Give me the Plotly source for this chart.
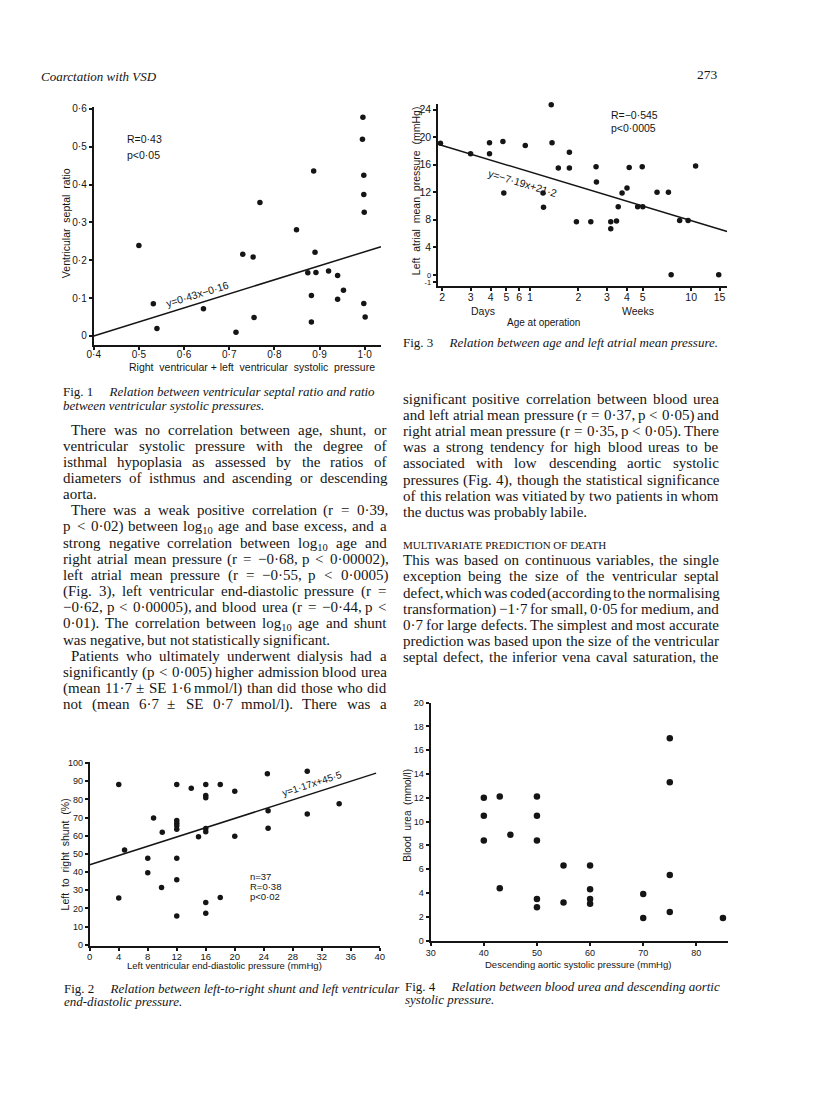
import plotly.graph_objects as go

# ---------------- data ----------------
# Fig. 1  ventricular septal ratio vs RV/LV systolic pressure ratio
fig1_pressure_ratio = [0.500, 0.532, 0.540, 0.643, 0.715, 0.730, 0.753, 0.755, 0.768, 0.849,
                       0.874, 0.882, 0.882, 0.887, 0.890, 0.892, 0.920, 0.940, 0.940, 0.953,
                       0.996, 0.995, 0.998, 0.998, 0.999, 0.998, 1.001]
fig1_septal_ratio = [0.239, 0.085, 0.020, 0.072, 0.010, 0.216, 0.209, 0.049, 0.353, 0.281,
                     0.167, 0.107, 0.037, 0.436, 0.221, 0.168, 0.172, 0.160, 0.097, 0.121,
                     0.578, 0.520, 0.425, 0.374, 0.327, 0.086, 0.050]
fig1_fit_x = [0.40, 1.036]
fig1_fit_y = [0.0, 0.236]
fig1_xticks = [0.4, 0.5, 0.6, 0.7, 0.8, 0.9, 1.0]
fig1_xticktext = ["0·4", "0·5", "0·6", "0·7", "0·8", "0·9", "1·0"]
fig1_yticks = [0, 0.1, 0.2, 0.3, 0.4, 0.5, 0.6]
fig1_yticktext = ["0", "0·1", "0·2", "0·3", "0·4", "0·5", "0·6"]

# Fig. 3  left atrial mean pressure vs age at operation (days, log scale)
fig3_age_days = [1.95, 3.0, 3.93, 3.93, 4.76, 4.82, 6.55, 9.49, 9.6, 8.44, 8.5, 10.5,
                 12.3, 12.3, 13.6, 16.7, 18.0, 18.1, 22.2, 22.2, 24.1, 24.7, 26.1, 28.0,
                 28.9, 32.6, 35.1, 34.8, 43.0, 50.6, 52.6, 59.4, 67.0, 74.6, 103.8]
fig3_la_pressure = [19.1, 17.6, 19.2, 17.6, 19.35, 11.9, 18.8, 24.7, 19.2, 11.9, 9.8, 15.5,
                    17.8, 15.5, 7.7, 7.7, 15.7, 13.5, 7.7, 6.7, 7.8, 9.9, 11.9, 12.6,
                    15.6, 9.9, 9.9, 15.7, 12.0, 12.0, 0.0, 7.9, 7.9, 15.8, 0.0]
fig3_fit_days = [1.93, 117]
fig3_fit_y = [18.9, 6.3]
fig3_xticks = [2, 3, 4, 5, 6, 7, 14, 21, 28, 35, 70, 105]
fig3_xticktext = ["2", "3", "4", "5", "6", "1", "2", "3", "4", "5", "10", "15"]
fig3_yticks = [-1, 0, 4, 8, 12, 16, 20, 24]
fig3_yticktext = ["-1", "0", "4", "8", "12", "16", "20", "24"]

# Fig. 2  left-to-right shunt vs LV end-diastolic pressure
fig2_lvedp = [4, 4, 4.8, 8, 8, 8.8, 10, 9.9, 12, 12, 12, 12, 12, 12, 12, 12, 14, 15,
              16, 16, 16, 16, 16, 16, 16, 18, 18, 20, 20, 24.5, 24.6, 24.6, 30, 30, 34.4]
fig2_shunt = [88.2, 25.8, 52.2, 47.6, 39.6, 69.8, 62.0, 31.5, 88.2, 68.4, 66.9, 65.5, 63.6,
              47.6, 35.8, 15.8, 86.2, 59.5, 88.2, 82.2, 80.9, 64.0, 62.2, 23.3, 17.3, 88.2,
              26.0, 84.5, 59.8, 94.2, 73.8, 64.2, 95.5, 72.0, 77.6]
fig2_fit_x = [0, 39.5]
fig2_fit_y = [44.0, 94.5]
fig2_xticks = [0, 4, 8, 12, 16, 20, 24, 28, 32, 36, 40]
fig2_yticks = [0, 10, 20, 30, 40, 50, 60, 70, 80, 90, 100]

# Fig. 4  blood urea vs descending aortic systolic pressure
fig4_pressure = [40, 40, 40, 43, 43, 45, 50, 50, 50, 50, 50, 55, 55, 60, 60, 60, 60,
                 70, 70, 75, 75, 75, 85, 75]
fig4_urea = [12.0, 10.5, 8.4, 12.1, 4.4, 8.9, 12.1, 10.5, 8.4, 3.5, 2.8, 6.3, 3.2, 6.3,
             4.3, 3.5, 3.1, 3.9, 1.9, 13.3, 5.5, 2.4, 1.9, 17.0]
fig4_xticks = [30, 40, 50, 60, 70, 80]
fig4_yticks = [0, 2, 4, 6, 8, 10, 12, 14, 16, 18, 20]

# ---------------- page text ----------------
header_left = "Coarctation with VSD"
header_right = "273"

left_paragraphs = [
    ["There was no correlation between age, shunt, or",
     "ventricular systolic pressure with the degree of",
     "isthmal hypoplasia as assessed by the ratios of",
     "diameters of isthmus and ascending or descending",
     "aorta."],
    ["There was a weak positive correlation (r = 0·39,",
     "p < 0·02) between log10 age and base excess, and a",
     "strong negative correlation between log10 age and",
     "right atrial mean pressure (r = −0·68, p < 0·00002),",
     "left atrial mean pressure (r = −0·55, p < 0·0005)",
     "(Fig. 3), left ventricular end-diastolic pressure (r =",
     "−0·62, p < 0·00005), and blood urea (r = −0·44, p <",
     "0·01). The correlation between log10 age and shunt",
     "was negative, but not statistically significant."],
    ["Patients who ultimately underwent dialysis had a",
     "significantly (p < 0·005) higher admission blood urea",
     "(mean 11·7 ± SE 1·6 mmol/l) than did those who did",
     "not (mean 6·7 ± SE 0·7 mmol/l). There was a"],
]
right_paragraph1 = [
    "significant positive correlation between blood urea",
    "and left atrial mean pressure (r = 0·37, p < 0·05) and",
    "right atrial mean pressure (r = 0·35, p < 0·05). There",
    "was a strong tendency for high blood ureas to be",
    "associated with low descending aortic systolic",
    "pressures (Fig. 4), though the statistical significance",
    "of this relation was vitiated by two patients in whom",
    "the ductus was probably labile."]
right_heading = "MULTIVARIATE PREDICTION OF DEATH"
right_paragraph2 = [
    "This was based on continuous variables, the single",
    "exception being the size of the ventricular septal",
    "defect, which was coded (according to the normalising",
    "transformation) −1·7 for small, 0·05 for medium, and",
    "0·7 for large defects. The simplest and most accurate",
    "prediction was based upon the size of the ventricular",
    "septal defect, the inferior vena caval saturation, the"]

cap1 = ["Fig. 1", "Relation between ventricular septal ratio and ratio",
        "between ventricular systolic pressures."]
cap3 = ["Fig. 3", "Relation between age and left atrial mean pressure."]
cap2 = ["Fig. 2", "Relation between left-to-right shunt and left ventricular",
        "end-diastolic pressure."]
cap4 = ["Fig. 4", "Relation between blood urea and descending aortic",
        "systolic pressure."]

# ---------------- layout helpers ----------------
PAGE_W, PAGE_H = 816, 1111
INK = "#151515"
SANS = "Liberation Sans"
SERIF = "Liberation Serif"


def px(x):
    return x / PAGE_W


def py(y):
    return 1 - y / PAGE_H


TIMES_W = {' ': 250, '!': 333, '(': 333, ')': 333, '+': 564, ',': 250, '-': 333, '.': 250,
           '/': 278, ':': 278, ';': 278, '<': 564, '=': 564, '>': 564, '·': 250, '±': 564,
           '−': 564,
           'A': 722, 'B': 667, 'C': 667, 'D': 722, 'E': 611, 'F': 556, 'G': 722, 'H': 722,
           'I': 333, 'J': 389, 'K': 722, 'L': 611, 'M': 889, 'N': 722, 'O': 722, 'P': 556,
           'Q': 722, 'R': 667, 'S': 556, 'T': 611, 'U': 722, 'V': 722, 'W': 944, 'X': 722,
           'Y': 722, 'Z': 611,
           'a': 444, 'b': 500, 'c': 444, 'd': 500, 'e': 444, 'f': 333, 'g': 500, 'h': 500,
           'i': 278, 'j': 278, 'k': 500, 'l': 278, 'm': 778, 'n': 500, 'o': 500, 'p': 500,
           'q': 500, 'r': 333, 's': 389, 't': 278, 'u': 500, 'v': 500, 'w': 722, 'x': 500,
           'y': 500, 'z': 444}
for d in "0123456789":
    TIMES_W[d] = 500


def word_width(w, size):
    if w.startswith("log10"):
        units = sum(TIMES_W.get(c, 500) for c in "log") + 700 + \
            sum(TIMES_W.get(c, 500) for c in w[5:])
    else:
        units = sum(TIMES_W.get(c, 500) for c in w)
    return units * size / 1000.0


annotations = []


def ann(text, x, y, size=10, family=SANS, xanchor="center", yanchor="middle", angle=0,
        color=INK):
    annotations.append(dict(text=text, x=px(x), y=py(y), xref="paper", yref="paper",
                            xanchor=xanchor, yanchor=yanchor, showarrow=False,
                            textangle=angle, borderpad=0, borderwidth=0,
                            font=dict(family=family, size=size, color=color)))


BODY = 15.0


def body_line(line, x0, x1, y, justify, indent=0.0, size=BODY):
    words = line.split(" ")
    widths = [word_width(w, size) for w in words]
    avail = x1 - x0 - indent
    if justify and len(words) > 1:
        gap = (avail - sum(widths)) / (len(words) - 1)
    else:
        gap = 0.25 * size
    x = x0 + indent
    for w, wd in zip(words, widths):
        ann(w.replace("log10", "log<sub>10</sub>"), x, y - 0.58 * size, size=size,
            family=SERIF, xanchor="left", yanchor="top")
        x += wd + gap


LEAD = 16.3
# left column
LX0, LX1, LY0 = 57, 385, 429
i = 0
for p_idx, para in enumerate(left_paragraphs):
    for j, line in enumerate(para):
        last = (j == len(para) - 1) and p_idx < len(left_paragraphs) - 1
        body_line(line, LX0, LX1, LY0 + i * LEAD, justify=not last,
                  indent=8 if j == 0 else 0)
        i += 1
# right column
RX0, RX1, RY0 = 402, 722, 398
for j, line in enumerate(right_paragraph1):
    body_line(line, RX0, RX1, RY0 + j * LEAD, justify=(j < len(right_paragraph1) - 1))
ann(right_heading, RX0, 545, size=11, family=SERIF, xanchor="left")
RY2 = 561
for j, line in enumerate(right_paragraph2):
    body_line(line, RX0, RX1, RY2 + j * LEAD, justify=True)

# header
ann("<i>" + header_left + "</i>", 35, 72, size=13, family=SERIF, xanchor="left")
ann(header_right, 722, 70, size=13.5, family=SERIF, xanchor="right")


def caption(cap, x, y, size=13):
    ann(cap[0] + "\u2003 <i>" + cap[1] + "</i>", x, y, size=size, family=SERIF, xanchor="left")
    if len(cap) > 2:
        ann("<i>" + cap[2] + "</i>", x, y + 14, size=size, family=SERIF, xanchor="left")


caption(cap1, 57, 390)
caption(cap3, 402, 341)
caption(cap2, 58, 992)
caption(cap4, 404, 990)

NB = "\u00a0"
# Fig. 1 texts
ann("R=0·43", 122, 135, size=10.5, xanchor="left")
ann("p<0·05", 122, 151, size=10.5, xanchor="left")
ann("y=0·43x−0·16", 193, 292, size=10.5, angle=-17)
ann("Ventricular" + NB + " septal" + NB + " ratio", 60, 220, size=10.5, angle=-90)
ann("Right" + NB + " ventricular + left" + NB + " ventricular" + NB + " systolic" + NB + " pressure",
    249, 365, size=10.5)
# Fig. 3 texts
ann("R=−0·545", 613, 111, size=10.5, xanchor="left")
ann("p<0·0005", 613, 124, size=10.5, xanchor="left")
ann("y=−7·19x+21·2", 523, 180, size=10.5, angle=17)
ann("Left" + NB + " atrial" + NB + " mean" + NB + " pressure" + NB + " (mmHg)", 415, 187,
    size=10.5, angle=-90)
ann("Days", 483, 308.5, size=10.5)
ann("Weeks", 640, 308.5, size=10.5)
ann("Age at operation", 544, 320.5, size=10)
# Fig. 2 texts
ann("n=37", 247, 879, size=9.5, xanchor="left")
ann("R=0·38", 247, 889.5, size=9.5, xanchor="left")
ann("p<0·02", 247, 899.5, size=9.5, xanchor="left")
ann("y=1·17x+45·5", 310, 786, size=10, angle=-18)
ann("Left" + NB + " to" + NB + " right" + NB + " shunt" + NB + " (%)", 59, 857, size=10.5, angle=-90)
ann("Left ventricular end-diastolic pressure (mmHg)", 221, 969.5, size=9.5)
# Fig. 4 texts
ann("Blood" + NB + " urea" + NB + " (mmol/l)", 407, 818, size=10, angle=-90)
ann("Descending aortic systolic pressure (mmHg)", 580, 968, size=9.5)


def axis(domain, rng, **kw):
    d = dict(domain=domain, range=rng, showline=True, linecolor=INK, linewidth=2,
             ticks="outside", ticklen=3, tickwidth=1.5, tickcolor=INK, showgrid=False,
             zeroline=False, tickfont=dict(family=SANS, size=10, color=INK), fixedrange=True,
             mirror=False)
    d.update(kw)
    return d


# the "-1" / "0" labels of Fig. 3 sit very close together: draw them a little smaller
fig3_yticklabels = ["<span style='font-size:7.5px'>%s</span>" % t if t in ("-1", "0") else t
                    for t in fig3_yticktext]

fig = go.Figure()
mk = dict(color=INK, size=5.5)
fig.add_trace(go.Scatter(x=fig1_pressure_ratio, y=fig1_septal_ratio, mode="markers", marker=mk,
                         xaxis="x", yaxis="y", cliponaxis=False))
fig.add_trace(go.Scatter(x=fig1_fit_x, y=fig1_fit_y, mode="lines", line=dict(color=INK, width=1.5),
                         xaxis="x", yaxis="y", cliponaxis=False))
fig.add_trace(go.Scatter(x=fig3_age_days, y=fig3_la_pressure, mode="markers", marker=mk,
                         xaxis="x2", yaxis="y2", cliponaxis=False))
fig.add_trace(go.Scatter(x=fig3_fit_days, y=fig3_fit_y, mode="lines", line=dict(color=INK, width=1.5),
                         xaxis="x2", yaxis="y2", cliponaxis=False))
fig.add_trace(go.Scatter(x=fig2_lvedp, y=fig2_shunt, mode="markers", marker=mk,
                         xaxis="x3", yaxis="y3", cliponaxis=False))
fig.add_trace(go.Scatter(x=fig2_fit_x, y=fig2_fit_y, mode="lines", line=dict(color=INK, width=1.5),
                         xaxis="x3", yaxis="y3", cliponaxis=False))
fig.add_trace(go.Scatter(x=fig4_pressure, y=fig4_urea, mode="markers",
                         marker=dict(color=INK, size=6.5), xaxis="x4", yaxis="y4", cliponaxis=False))

fig.update_layout(
    width=PAGE_W, height=PAGE_H, autosize=False, showlegend=False,
    margin=dict(l=0, r=0, t=0, b=0),
    paper_bgcolor="white", plot_bgcolor="white",
    xaxis=axis([px(88), px(380)], [0.4, 1.037], anchor="y", tickvals=fig1_xticks,
               ticktext=fig1_xticktext, ticklabelstandoff=-4),
    yaxis=axis([py(343), py(103)], [-0.0236, 0.605], anchor="x", tickvals=fig1_yticks,
               ticktext=fig1_yticktext),
    xaxis2=axis([px(437.7), px(731)], [0.2766, 2.069], anchor="y2", type="log",
                tickvals=fig3_xticks, ticktext=fig3_xticktext, ticklabelstandoff=-3,
                tickfont=dict(family=SANS, size=10.5, color=INK)),
    yaxis2=axis([py(284), py(100)], [-1.69, 24.8], anchor="x2", tickvals=fig3_yticks,
                ticktext=fig3_yticklabels, tickfont=dict(family=SANS, size=10.5, color=INK)),
    xaxis3=axis([px(84), px(378.3)], [0, 40], anchor="y3", tickvals=fig2_xticks,
                ticklabelstandoff=-2, tickfont=dict(family=SANS, size=9.5, color=INK)),
    yaxis3=axis([py(949.2), py(764.1)], [-0.5, 100.5], anchor="x3", tickvals=fig2_yticks,
                tickfont=dict(family=SANS, size=9, color=INK)),
    xaxis4=axis([px(430), px(732)], [30, 86], anchor="y4", tickvals=fig4_xticks,
                tickfont=dict(family=SANS, size=9, color=INK)),
    yaxis4=axis([py(944), py(704)], [0, 20], anchor="x4", tickvals=fig4_yticks,
                tickfont=dict(family=SANS, size=9, color=INK)),
    annotations=annotations,
)

fig.write_html(
    "out.html",
    config={"displayModeBar": False},
    post_script="document.body.style.margin='0px';document.body.style.overflow='hidden';",
)
